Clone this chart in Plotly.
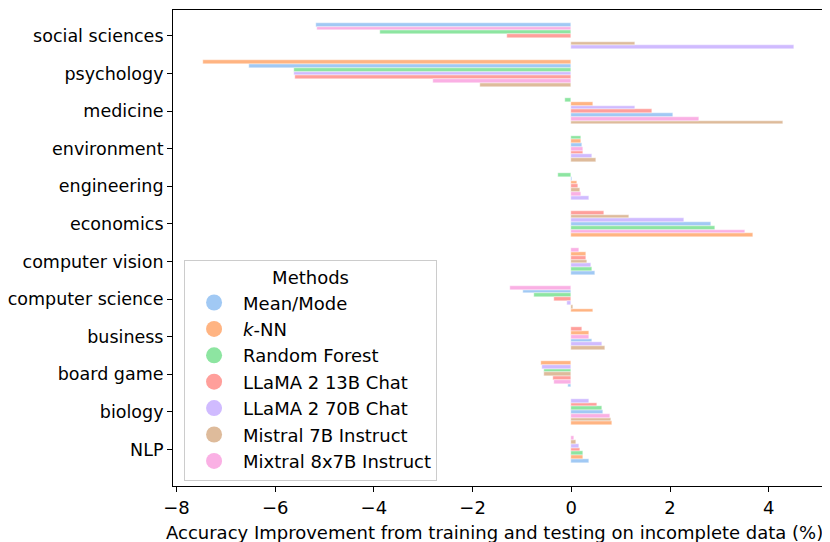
"""
Accuracy improvement per domain, horizontal grouped bars (sorted within each domain).
"""

import numpy as np
import plotly.graph_objects as go

# Categories from top to bottom
categories = ["social sciences", "psychology", "medicine", "environment", "engineering",
              "economics", "computer vision", "computer science", "business", "board game",
              "biology", "NLP"]

methods = ["Mean/Mode", "<i>k</i>-NN", "Random Forest", "LLaMA 2 13B Chat",
           "LLaMA 2 70B Chat", "Mistral 7B Instruct", "Mixtral 8x7B Instruct"]

mean_mode = [-5.17, -6.54, 2.07, 0.21, 0.02, 2.83, 0.47, -0.97, 0.41, -0.06, 0.65, 0.35]
knn = [0.0, -7.47, 0.43, 0.20, 0.12, 3.68, 0.29, 0.43, 0.35, -0.62, 0.82, 0.24]
random_forest = [-3.88, -5.62, -0.12, 0.19, -0.26, 2.92, 0.42, -0.76, 0.0, -0.56, 0.63, 0.23]
llama_13b = [-1.30, -5.60, 1.64, 0.24, 0.14, 0.66, 0.30, -0.36, 0.22, -0.38, 0.53, 0.18]
llama_70b = [4.52, -5.61, 1.29, 0.42, 0.36, 2.28, 0.40, -0.09, 0.62, -0.60, 0.35, 0.15]
mistral_7b = [1.29, -1.86, 4.29, 0.50, 0.17, 1.17, 0.31, 0.03, 0.68, -0.55, 0.81, 0.10]
mixtral_8x7b = [-5.15, -2.80, 2.59, 0.23, 0.20, 3.52, 0.15, -1.25, 0.36, -0.36, 0.79, 0.06]

colors = ["#a1c9f4", "#ffb482", "#8de5a1", "#ff9f9b", "#d0bbff", "#debb9b", "#fab0e4"]

values = np.array([mean_mode, knn, random_forest, llama_13b, llama_70b, mistral_7b, mixtral_8x7b])

# within every category the bars are ordered by value, smallest on top
ranks = np.argsort(np.argsort(values, axis=0, kind="stable"), axis=0)
bar_h = 0.1
offsets = -0.35 + ranks * bar_h

y_pos = np.arange(len(categories))

fig = go.Figure()
for i, name in enumerate(methods):
    fig.add_trace(go.Bar(
        x=values[i],
        y=y_pos,
        orientation="h",
        offset=offsets[i],
        width=bar_h,
        marker=dict(color=colors[i], line=dict(color="white", width=0.4)),
        name=name,
        showlegend=False,
    ))
    # legend entries with round markers
    fig.add_trace(go.Scatter(
        x=[None], y=[None], mode="markers",
        marker=dict(color=colors[i], size=16, symbol="circle"),
        name=name,
    ))

# page body adds an 8px margin, so the figure is a bit smaller than the window
fig.update_layout(
    width=822, height=534,
    margin=dict(l=165, r=6, t=2, b=56),
    plot_bgcolor="white",
    paper_bgcolor="white",
    font=dict(family="DejaVu Sans", size=18, color="black"),
    barmode="overlay",
    bargap=0,
    legend=dict(
        title=dict(text="Methods", side="top center", font=dict(size=18)),
        x=0.017, y=0.475, xanchor="left", yanchor="top",
        bordercolor="#cccccc", borderwidth=1,
        bgcolor="rgba(255,255,255,0.8)",
        itemwidth=48,
        font=dict(size=18),
    ),
)

# x axis title placed as annotation so the bottom margin stays fixed
fig.add_annotation(
    text="Accuracy Improvement from training and testing on incomplete data (%)",
    xref="paper", yref="paper", x=0.5, y=-0.097, xshift=-4,
    xanchor="center", yanchor="middle", showarrow=False,
    font=dict(size=18),
)

fig.update_xaxes(
    range=[-8.07, 5.12],
    tickvals=[-8, -6, -4, -2, 0, 2, 4],
    ticks="outside", ticklen=5, tickcolor="black",
    showline=True, linecolor="black", linewidth=1, mirror=True,
    showgrid=False, zeroline=False, automargin=False,
)
fig.update_yaxes(
    range=[11.97, -0.69],
    tickvals=y_pos, ticktext=categories,
    tickfont=dict(size=17.5),
    ticks="outside", ticklen=5, tickcolor="black",
    showline=True, linecolor="black", linewidth=1, mirror=True,
    showgrid=False, zeroline=False, automargin=False,
)

fig.write_html("out.html")
